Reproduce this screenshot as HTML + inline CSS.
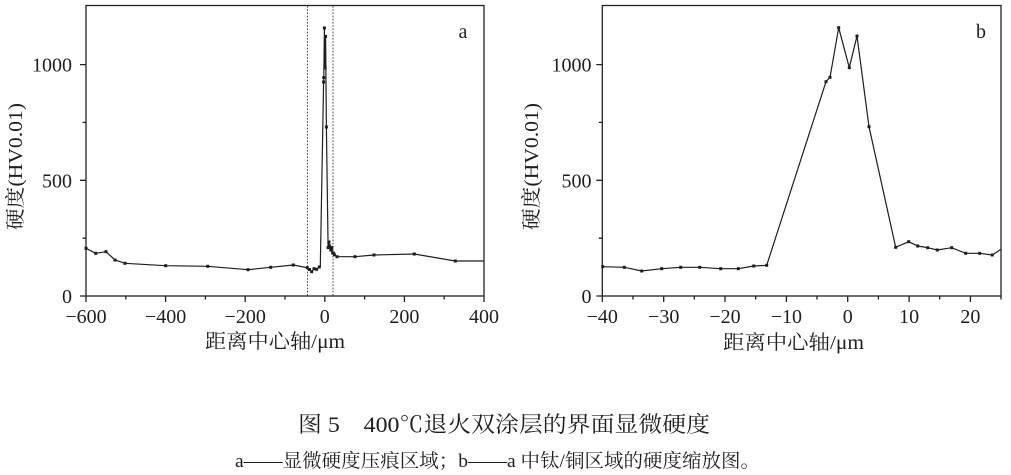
<!DOCTYPE html>
<html><head><meta charset="utf-8"><style>
html,body{margin:0;padding:0;background:#fff;}
svg{display:block;}
text{font-family:"Liberation Serif","Noto Serif CJK SC",serif;fill:#1e1e1e;}
</style></head><body>
<svg width="1011" height="475" viewBox="0 0 1011 475" xmlns="http://www.w3.org/2000/svg">
<rect width="1011" height="475" fill="#fff"/>

<!-- ===== Chart a ===== -->
<g stroke="#222" stroke-width="1.3" fill="none">
  <rect x="86" y="5.5" width="398" height="290.5"/>
  <!-- x ticks major -->
  <path d="M86,296v6 M165.6,296v6 M245.2,296v6 M324.8,296v6 M404.4,296v6 M484,296v6"/>
  <!-- x ticks minor -->
  <path d="M125.8,296v3.5 M205.4,296v3.5 M285,296v3.5 M364.6,296v3.5 M444.2,296v3.5"/>
  <!-- y ticks -->
  <path d="M86,296h-6 M86,180.3h-6 M86,64.6h-6 M86,238.2h-3.5 M86,122.4h-3.5"/>
</g>
<g stroke="#444" stroke-width="1" stroke-dasharray="1.6,1.6">
  <line x1="307.5" y1="6" x2="307.5" y2="296"/>
  <line x1="333" y1="6" x2="333" y2="296"/>
</g>
<polyline fill="none" stroke="#1e1e1e" stroke-width="1.2" points="86,248.3 95.7,253.3 106,251.7 115,260 125,263.3 165.7,265.7 207.7,266.3 248,269.7 270.7,267.3 293.3,265 307.3,267.7 309.5,269.5 311.7,271.7 314,268.7 316.7,269.3 319.3,267 320.3,266.5 323.6,82 323.8,77.6 324.4,28 325.1,68 325.6,36.4 326.4,127 328.1,247.6 328.9,242 329.5,246 330.2,247.6 330.8,250 331.8,247.6 332.6,253 333.6,253 334.4,254.8 337,256.7 355,256.7 374,255 414.3,254 455.3,261 484,261"/>
<g fill="#1e1e1e">
  <rect x="84.5" y="246.8" width="3" height="3"/><rect x="94.2" y="251.8" width="3" height="3"/><rect x="104.5" y="250.2" width="3" height="3"/><rect x="113.5" y="258.5" width="3" height="3"/><rect x="123.5" y="261.8" width="3" height="3"/><rect x="164.2" y="264.2" width="3" height="3"/><rect x="206.2" y="264.8" width="3" height="3"/><rect x="246.5" y="268.2" width="3" height="3"/><rect x="269.2" y="265.8" width="3" height="3"/><rect x="291.8" y="263.5" width="3" height="3"/><rect x="305.8" y="266.2" width="3" height="3"/><rect x="308" y="268" width="3" height="3"/><rect x="310.2" y="270.2" width="3" height="3"/><rect x="312.5" y="267.2" width="3" height="3"/><rect x="315.2" y="267.8" width="3" height="3"/><rect x="317.8" y="265.5" width="3" height="3"/>
  <rect x="322.1" y="80.5" width="3" height="3"/><rect x="322.3" y="76.1" width="3" height="3"/><rect x="322.9" y="26.5" width="3" height="3"/><rect x="323.6" y="66.5" width="3" height="3"/><rect x="324.1" y="34.9" width="3" height="3"/><rect x="324.9" y="125.5" width="3" height="3"/>
  <rect x="326.6" y="246.1" width="3" height="3"/><rect x="327.4" y="240.5" width="3" height="3"/><rect x="328" y="244.5" width="3" height="3"/><rect x="328.7" y="246.1" width="3" height="3"/><rect x="329.3" y="248.5" width="3" height="3"/><rect x="330.3" y="246.1" width="3" height="3"/><rect x="331.1" y="251.5" width="3" height="3"/><rect x="332.1" y="251.5" width="3" height="3"/><rect x="332.9" y="253.3" width="3" height="3"/><rect x="335.5" y="255.2" width="3" height="3"/>
  <rect x="353.5" y="255.2" width="3" height="3"/><rect x="372.5" y="253.5" width="3" height="3"/><rect x="412.8" y="252.5" width="3" height="3"/><rect x="453.8" y="259.5" width="3" height="3"/>
</g>
<g font-size="20" text-anchor="middle">
  <text x="86" y="323">−600</text>
  <text x="165.6" y="323">−400</text>
  <text x="245.2" y="323">−200</text>
  <text x="324.8" y="323">0</text>
  <text x="404.4" y="323">200</text>
  <text x="484" y="323">400</text>
</g>
<g font-size="20" text-anchor="end">
  <text x="72" y="303">0</text>
  <text x="72" y="187.3">500</text>
  <text x="72" y="71.6">1000</text>
</g>
<text x="463" y="38" font-size="20" text-anchor="middle">a</text>
<text x="275" y="348" font-size="20" text-anchor="middle" textLength="140" lengthAdjust="spacingAndGlyphs">距离中心轴/μm</text>
<text transform="translate(22,166.5) rotate(-90)" font-size="20" text-anchor="middle" textLength="127" lengthAdjust="spacingAndGlyphs">硬度(HV0.01)</text>

<!-- ===== Chart b ===== -->
<g stroke="#222" stroke-width="1.3" fill="none">
  <rect x="602.3" y="5.5" width="398.7" height="290.5"/>
  <path d="M602.3,296v6 M663.7,296v6 M725,296v6 M786.4,296v6 M847.7,296v6 M909.1,296v6 M970.4,296v6"/>
  <path d="M633,296v3.5 M694.3,296v3.5 M755.7,296v3.5 M817,296v3.5 M878.4,296v3.5 M939.7,296v3.5 M1001,296v3.5"/>
  <path d="M602.3,296h-6 M602.3,180.3h-6 M602.3,64.6h-6 M602.3,238.2h-3.5 M602.3,122.4h-3.5"/>
</g>
<polyline fill="none" stroke="#1e1e1e" stroke-width="1.2" points="602.7,266.7 624.3,267.3 641.7,271 661.7,268.7 680.7,267.3 699.7,267.3 720.7,268.7 738.3,268.7 753.7,266 766.7,265.3 826,81.7 830,77.3 838.7,27.7 849.3,67.7 857,36 869,126.7 895.7,247.3 908.7,241.7 917.7,246 927.7,247.7 937.3,250 951.7,247.7 965.7,253.3 979.7,253.3 992.3,255 1001,249.3"/>
<g fill="#1e1e1e">
  <rect x="601.2" y="265.2" width="3" height="3"/><rect x="622.8" y="265.8" width="3" height="3"/><rect x="640.2" y="269.5" width="3" height="3"/><rect x="660.2" y="267.2" width="3" height="3"/><rect x="679.2" y="265.8" width="3" height="3"/><rect x="698.2" y="265.8" width="3" height="3"/><rect x="719.2" y="267.2" width="3" height="3"/><rect x="736.8" y="267.2" width="3" height="3"/><rect x="752.2" y="264.5" width="3" height="3"/><rect x="765.2" y="263.8" width="3" height="3"/>
  <rect x="824.5" y="80.2" width="3" height="3"/><rect x="828.5" y="75.8" width="3" height="3"/><rect x="837.2" y="26.2" width="3" height="3"/><rect x="847.8" y="66.2" width="3" height="3"/><rect x="855.5" y="34.5" width="3" height="3"/><rect x="867.5" y="125.2" width="3" height="3"/>
  <rect x="894.2" y="245.8" width="3" height="3"/><rect x="907.2" y="240.2" width="3" height="3"/><rect x="916.2" y="244.5" width="3" height="3"/><rect x="926.2" y="246.2" width="3" height="3"/><rect x="935.8" y="248.5" width="3" height="3"/><rect x="950.2" y="246.2" width="3" height="3"/><rect x="964.2" y="251.8" width="3" height="3"/><rect x="978.2" y="251.8" width="3" height="3"/><rect x="990.8" y="253.5" width="3" height="3"/>
</g>
<g font-size="20" text-anchor="middle">
  <text x="602.3" y="323">−40</text>
  <text x="663.7" y="323">−30</text>
  <text x="725" y="323">−20</text>
  <text x="786.4" y="323">−10</text>
  <text x="847.7" y="323">0</text>
  <text x="909.1" y="323">10</text>
  <text x="970.4" y="323">20</text>
</g>
<g font-size="20" text-anchor="end">
  <text x="591.5" y="303">0</text>
  <text x="591.5" y="187.3">500</text>
  <text x="591.5" y="71.6">1000</text>
</g>
<text x="981" y="38" font-size="20" text-anchor="middle">b</text>
<text x="793.5" y="349" font-size="20" text-anchor="middle" textLength="141" lengthAdjust="spacingAndGlyphs">距离中心轴/μm</text>
<text transform="translate(538,166.5) rotate(-90)" font-size="20" text-anchor="middle" textLength="127" lengthAdjust="spacingAndGlyphs">硬度(HV0.01)</text>

<!-- ===== Caption ===== -->
<text x="298" y="432" font-size="22" textLength="412" lengthAdjust="spacingAndGlyphs">图 5　400℃退火双涂层的界面显微硬度</text>
<text x="235" y="467" font-size="19" textLength="525" lengthAdjust="spacingAndGlyphs">a——显微硬度压痕区域；b——a 中钛/铜区域的硬度缩放图。</text>
</svg>
</body></html>
